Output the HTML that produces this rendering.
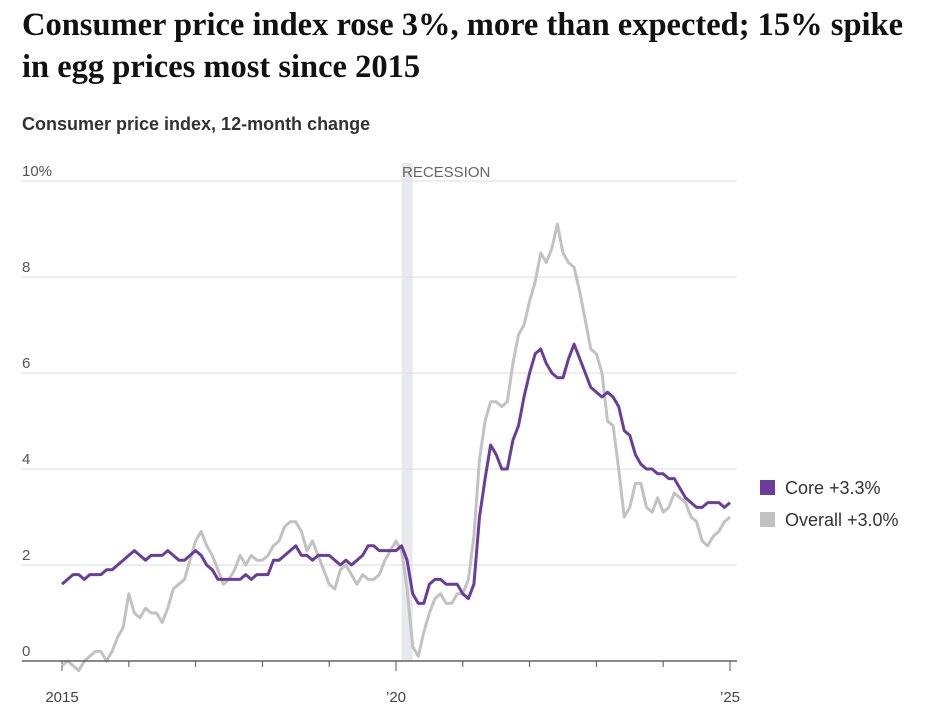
<!DOCTYPE html>
<html><head><meta charset="utf-8"><style>
body{margin:0;background:#fff;width:926px;height:720px;overflow:hidden;font-family:"Liberation Sans",sans-serif}
h1{position:absolute;left:22px;top:4px;margin:0;font:bold 32.5px/42px "Liberation Serif",serif;color:#111;width:910px;white-space:nowrap}
.sub{position:absolute;left:22px;top:114px;font-weight:bold;font-size:18px;color:#333}
svg{position:absolute;left:0;top:0}
</style></head><body>
<h1>Consumer price index rose 3%, more than expected; 15% spike<br>in egg prices most since 2015</h1>
<div class="sub">Consumer price index, 12-month change</div>
<svg id="c" width="926" height="720"></svg>
<script>
const core=[1.6,1.7,1.8,1.8,1.7,1.8,1.8,1.8,1.9,1.9,2.0,2.1,
2.2,2.3,2.2,2.1,2.2,2.2,2.2,2.3,2.2,2.1,2.1,2.2,
2.3,2.2,2.0,1.9,1.7,1.7,1.7,1.7,1.7,1.8,1.7,1.8,
1.8,1.8,2.1,2.1,2.2,2.3,2.4,2.2,2.2,2.1,2.2,2.2,
2.2,2.1,2.0,2.1,2.0,2.1,2.2,2.4,2.4,2.3,2.3,2.3,
2.3,2.4,2.1,1.4,1.2,1.2,1.6,1.7,1.7,1.6,1.6,1.6,
1.4,1.3,1.6,3.0,3.8,4.5,4.3,4.0,4.0,4.6,4.9,5.5,
6.0,6.4,6.5,6.2,6.0,5.9,5.9,6.3,6.6,6.3,6.0,5.7,
5.6,5.5,5.6,5.5,5.3,4.8,4.7,4.3,4.1,4.0,4.0,3.9,
3.9,3.8,3.8,3.6,3.4,3.3,3.2,3.2,3.3,3.3,3.3,3.2,3.3];
const overall=[-0.1,0.0,-0.1,-0.2,0.0,0.1,0.2,0.2,0.0,0.2,0.5,0.7,
1.4,1.0,0.9,1.1,1.0,1.0,0.8,1.1,1.5,1.6,1.7,2.1,
2.5,2.7,2.4,2.2,1.9,1.6,1.7,1.9,2.2,2.0,2.2,2.1,
2.1,2.2,2.4,2.5,2.8,2.9,2.9,2.7,2.3,2.5,2.2,1.9,
1.6,1.5,1.9,2.0,1.8,1.6,1.8,1.7,1.7,1.8,2.1,2.3,
2.5,2.3,1.5,0.3,0.1,0.6,1.0,1.3,1.4,1.2,1.2,1.4,
1.4,1.7,2.6,4.2,5.0,5.4,5.4,5.3,5.4,6.2,6.8,7.0,
7.5,7.9,8.5,8.3,8.6,9.1,8.5,8.3,8.2,7.7,7.1,6.5,
6.4,6.0,5.0,4.9,4.0,3.0,3.2,3.7,3.7,3.2,3.1,3.4,
3.1,3.2,3.5,3.4,3.3,3.0,2.9,2.5,2.4,2.6,2.7,2.9,3.0];
const yTicks=[0,2,4,6,8,10];
const yLabels=["0","2","4","6","8","10%"];
const xLabelYears=[2015,2020,2025];
const xLabels=["2015","\u201920","\u201925"];
const NS="http://www.w3.org/2000/svg",svg=document.getElementById('c');
const x=m=>62+m*(668/120), xy=yr=>x((yr-2015)*12), y=v=>661-v*48;
function mk(t,a,p){const e=document.createElementNS(NS,t);for(const k in a)e.setAttribute(k,a[k]);(p||svg).appendChild(e);return e;}
const rec=mk('rect',{x:x(61),y:163,width:x(63)-x(61),height:498,fill:'#e8e9ec'});


const rt=mk('text',{x:402,y:177,'font-size':15,fill:'#666'});rt.textContent='RECESSION';


yTicks.forEach((t,i)=>{
 if(t>0){const g=mk('line',{x1:22,x2:737,y1:y(t),y2:y(t),stroke:'#ddd','stroke-width':1});
 
 }
 const l=mk('text',{x:22,y:y(t)-5,'font-size':15,fill:'#555'});l.textContent=yLabels[i];
 
 
});
for(let yr=2015;yr<=2025;yr++){const tk=mk('line',{x1:xy(yr),x2:xy(yr),y1:661,y2:yr%5==0?671:667,stroke:'#555'});
 
 }
xLabelYears.forEach((yr,i)=>{const l=mk('text',{x:xy(yr),y:702,'font-size':15,fill:'#444','text-anchor':'middle'});l.textContent=xLabels[i];
 
 });
const pts=a=>a.map((v,i)=>x(i).toFixed(1)+','+y(v).toFixed(1)).join(' ');
const lo=mk('polyline',{points:pts(overall),fill:'none',stroke:'#c2c2c2','stroke-width':3,'stroke-linejoin':'round'});


const lc=mk('polyline',{points:pts(core),fill:'none',stroke:'#6a3d9a','stroke-width':3,'stroke-linejoin':'round'});


const ax=mk('line',{x1:22,x2:737,y1:661,y2:661,stroke:'#444','stroke-width':1.2});


[["#6a3d9a","Core +3.3%",488,'legend-core'],["#c2c2c2","Overall +3.0%",520,'legend-overall']].forEach(d=>{
 const g=mk('g',{});
 
 
 mk('rect',{x:760,y:d[2]-8,width:15,height:15,fill:d[0]},g);
 const t=mk('text',{x:785,y:d[2]+6,'font-size':18,fill:'#333'},g);t.textContent=d[1];
});
</script>
</body></html>
